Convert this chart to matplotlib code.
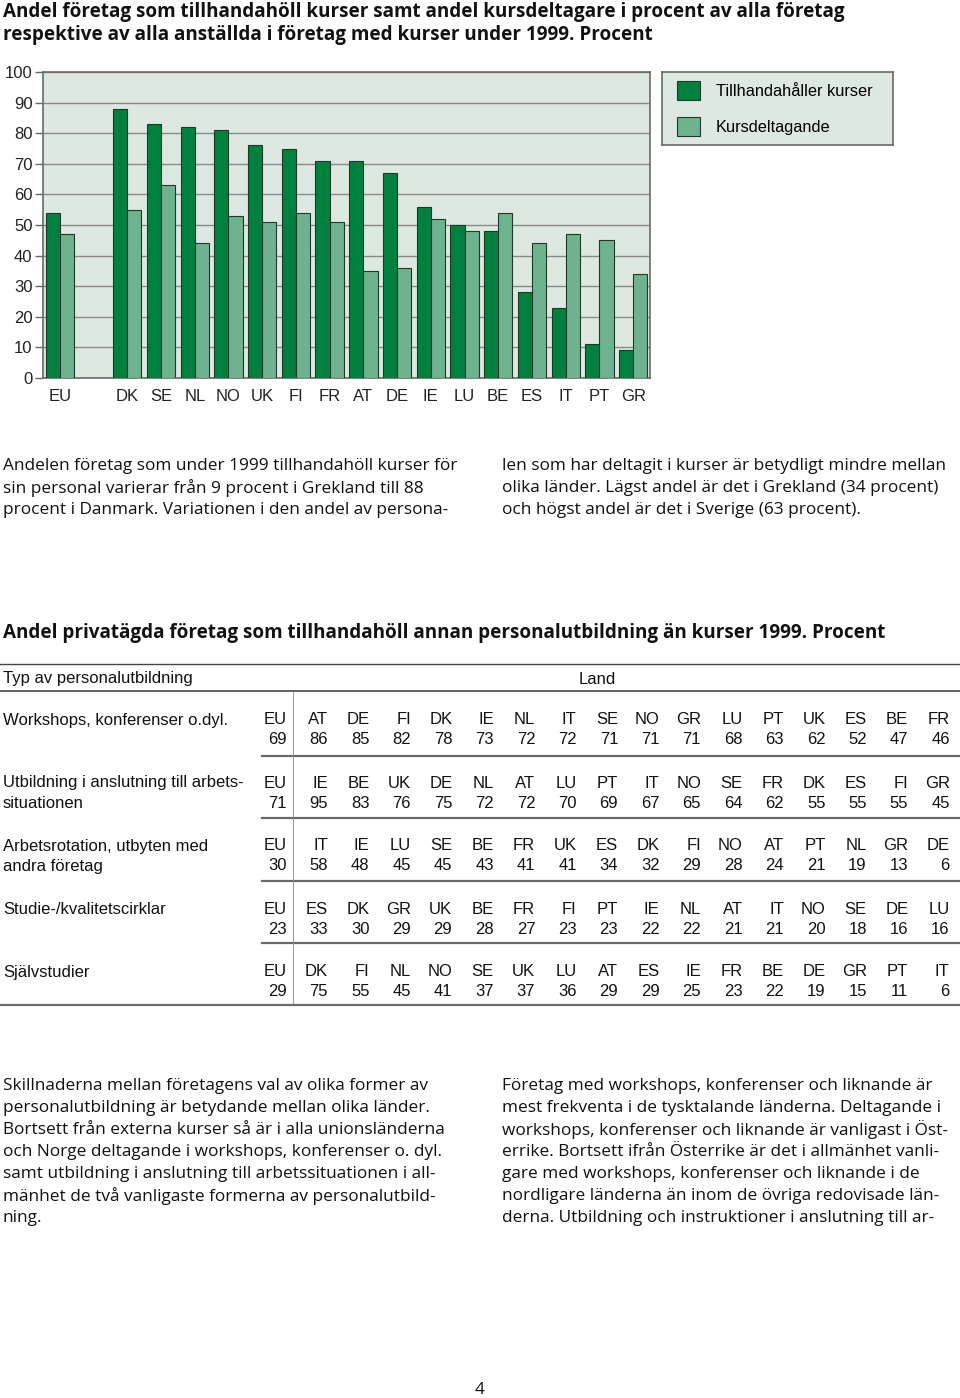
import matplotlib
matplotlib.use("Agg")
import matplotlib.pyplot as plt
from matplotlib.patches import Patch

# ---------------- data ----------------
countries = ["EU", "DK", "SE", "NL", "NO", "UK", "FI", "FR", "AT", "DE",
             "IE", "LU", "BE", "ES", "IT", "PT", "GR"]
positions = [0, 2, 3, 4, 5, 6, 7, 8, 9, 10, 11, 12, 13, 14, 15, 16, 17]
tillhandahaller = [54, 88, 83, 82, 81, 76, 75, 71, 71, 67, 56, 50, 48, 28, 23, 11, 9]
kursdeltagande = [47, 55, 63, 44, 53, 51, 54, 51, 35, 36, 52, 48, 54, 44, 47, 45, 34]
yticks = [0, 10, 20, 30, 40, 50, 60, 70, 80, 90, 100]
series_labels = ["Tillhandahåller kurser", "Kursdeltagande"]

row_labels = [
    ["Workshops, konferenser o.dyl."],
    ["Utbildning i anslutning till arbets-", "situationen"],
    ["Arbetsrotation, utbyten med", "andra företag"],
    ["Studie-/kvalitetscirklar"],
    ["Självstudier"],
]
row1_codes = ["EU", "AT", "DE", "FI", "DK", "IE", "NL", "IT", "SE", "NO", "GR", "LU", "PT", "UK", "ES", "BE", "FR"]
row1_vals = [69, 86, 85, 82, 78, 73, 72, 72, 71, 71, 71, 68, 63, 62, 52, 47, 46]
row2_codes = ["EU", "IE", "BE", "UK", "DE", "NL", "AT", "LU", "PT", "IT", "NO", "SE", "FR", "DK", "ES", "FI", "GR"]
row2_vals = [71, 95, 83, 76, 75, 72, 72, 70, 69, 67, 65, 64, 62, 55, 55, 55, 45]
row3_codes = ["EU", "IT", "IE", "LU", "SE", "BE", "FR", "UK", "ES", "DK", "FI", "NO", "AT", "PT", "NL", "GR", "DE"]
row3_vals = [30, 58, 48, 45, 45, 43, 41, 41, 34, 32, 29, 28, 24, 21, 19, 13, 6]
row4_codes = ["EU", "ES", "DK", "GR", "UK", "BE", "FR", "FI", "PT", "IE", "NL", "AT", "IT", "NO", "SE", "DE", "LU"]
row4_vals = [23, 33, 30, 29, 29, 28, 27, 23, 23, 22, 22, 21, 21, 20, 18, 16, 16]
row5_codes = ["EU", "DK", "FI", "NL", "NO", "SE", "UK", "LU", "AT", "ES", "IE", "FR", "BE", "DE", "GR", "PT", "IT"]
row5_vals = [29, 75, 55, 45, 41, 37, 37, 36, 29, 29, 25, 23, 22, 19, 15, 11, 6]

title_lines = ["Andel företag som tillhandahöll kurser samt andel kursdeltagare i procent av alla företag",
               "respektive av alla anställda i företag med kurser under 1999. Procent"]
para1_left = ["Andelen företag som under 1999 tillhandahöll kurser för",
              "sin personal varierar från 9 procent i Grekland till 88",
              "procent i Danmark. Variationen i den andel av persona-"]
para1_right = ["len som har deltagit i kurser är betydligt mindre mellan",
               "olika länder. Lägst andel är det i Grekland (34 procent)",
               "och högst andel är det i Sverige (63 procent)."]
table_title = "Andel privatägda företag som tillhandahöll annan personalutbildning än kurser 1999. Procent"
para2_left = ["Skillnaderna mellan företagens val av olika former av",
              "personalutbildning är betydande mellan olika länder.",
              "Bortsett från externa kurser så är i alla unionsländerna",
              "och Norge deltagande i workshops, konferenser o. dyl.",
              "samt utbildning i anslutning till arbetssituationen i all-",
              "mänhet de två vanligaste formerna av personalutbild-",
              "ning."]
para2_right = ["Företag med workshops, konferenser och liknande är",
               "mest frekventa i de tysktalande länderna. Deltagande i",
               "workshops, konferenser och liknande är vanligast i Öst-",
               "errike. Bortsett ifrån Österrike är det i allmänhet vanli-",
               "gare med workshops, konferenser och liknande i de",
               "nordligare länderna än inom de övriga redovisade län-",
               "derna. Utbildning och instruktioner i anslutning till ar-"]

# ---------------- styles ----------------
W, H = 960, 1398
DARK = "#00803f"
LIGHT = "#6fb28f"
BG = "#dde8e0"
EDGE = "#1f3a28"
BODY_FONT = ["Open Sans", "DejaVu Sans"]
ARIAL = ["Liberation Sans", "DejaVu Sans"]
BODY_SIZE = 12.4

fig = plt.figure(figsize=(W / 100, H / 100), dpi=100)
fig.patch.set_facecolor("white")


def fx(x):
    return x / W


def fy(y):
    return 1 - y / H


def ftext(x, y, s, **kw):
    fig.text(fx(x), fy(y), s, **kw)


# ---------------- title ----------------
for i, line in enumerate(title_lines):
    ftext(3, 12 + i * 23, line, fontsize=13.55, fontweight="bold", family=BODY_FONT,
          color="#111111", va="center", ha="left")

# ---------------- bar chart ----------------
ax = fig.add_axes([fx(43), fy(378), fx(650) - fx(43), fy(72) - fy(378)])
ax.set_facecolor(BG)
bw = 0.42
xd = [p - bw / 2 for p in positions]
xl = [p + bw / 2 for p in positions]
b1 = ax.bar(xd, tillhandahaller, width=bw, color=DARK, edgecolor=EDGE, linewidth=0.8, zorder=3)
b2 = ax.bar(xl, kursdeltagande, width=bw, color=LIGHT, edgecolor=EDGE, linewidth=0.8, zorder=3)
ax.set_xlim(-0.5, 17.5)
ax.set_ylim(0, 100)
ax.set_yticks(yticks)
ax.set_yticklabels([str(t) for t in yticks], family=ARIAL, fontsize=12, color="#222222")
ax.set_xticks(positions)
ax.set_xticklabels(countries, family=ARIAL, fontsize=12, color="#222222")
ax.tick_params(axis="x", length=0, pad=8)
ax.tick_params(axis="y", length=6, pad=1.5, width=1, color="#666666")
ax.yaxis.grid(True, color="#8a8a8a", linewidth=1, zorder=1)
ax.set_axisbelow(True)
for s in ax.spines.values():
    s.set_color("#6a6a6a")
    s.set_linewidth(1.2)

# legend box
lax = fig.add_axes([fx(662), fy(145), fx(893) - fx(662), fy(72) - fy(145)])
lax.set_facecolor(BG)
lax.set_xticks([])
lax.set_yticks([])
for s in lax.spines.values():
    s.set_color("#6a6a6a")
    s.set_linewidth(1.2)
handles = [Patch(facecolor=DARK, edgecolor=EDGE, linewidth=0.8),
           Patch(facecolor=LIGHT, edgecolor=EDGE, linewidth=0.8)]
lax.legend(handles, series_labels, loc="center left", frameon=False,
           prop={"family": ARIAL, "size": 11.8}, handlelength=1.4, handleheight=1.4,
           labelspacing=1.05, handletextpad=1.0, borderaxespad=0.5)

# ---------------- paragraph 1 ----------------
for i, line in enumerate(para1_left):
    ftext(3, 466 + i * 22, line, fontsize=BODY_SIZE, family=BODY_FONT, color="#111111", va="center")
for i, line in enumerate(para1_right):
    ftext(502, 466 + i * 22, line, fontsize=BODY_SIZE, family=BODY_FONT, color="#111111", va="center")

# ---------------- table ----------------
ftext(3, 633, table_title, fontsize=13.6, fontweight="bold", family=BODY_FONT,
      color="#111111", va="center")


def hline(y, x0, x1, lw, color):
    fig.add_artist(plt.Line2D([fx(x0), fx(x1)], [fy(y), fy(y)], lw=lw, color=color))


def vline(x, y0, y1, lw, color):
    fig.add_artist(plt.Line2D([fx(x), fx(x)], [fy(y0), fy(y1)], lw=lw, color=color))


hline(664, 0, 960, 1.0, "#444444")
hline(691, 0, 960, 1.3, "#555555")
ftext(3, 679, "Typ av personalutbildning", fontsize=12, family=ARIAL, color="#111111", va="center")
ftext(597, 679, "Land", fontsize=12, family=ARIAL, color="#111111", va="center", ha="center")

rows_codes = [row1_codes, row2_codes, row3_codes, row4_codes, row5_codes]
rows_vals = [row1_vals, row2_vals, row3_vals, row4_vals, row5_vals]
row_bottoms = [756, 818, 881, 943, 1005]
col_right = [287] + [328 + 41.45 * k for k in range(16)]
for r in range(5):
    y_code = 720 + r * 63
    y_val = y_code + 20
    for j, line in enumerate(row_labels[r]):
        ftext(3, y_code + j * 20, line, fontsize=12, family=ARIAL, color="#111111", va="center")
    for c, (code, val) in enumerate(zip(rows_codes[r], rows_vals[r])):
        ftext(col_right[c], y_code, code, fontsize=12, family=ARIAL, color="#111111",
              va="center", ha="right")
        ftext(col_right[c], y_val, str(val), fontsize=12, family=ARIAL, color="#111111",
              va="center", ha="right")
    if r < 4:
        hline(row_bottoms[r], 262, 960, 1.6, "#6a6a6a")
    else:
        hline(row_bottoms[r], 0, 960, 1.6, "#6a6a6a")
vline(293, 692, 1004, 0.6, "#888888")

# ---------------- paragraph 2 ----------------
for i, line in enumerate(para2_left):
    ftext(3, 1086 + i * 22, line, fontsize=BODY_SIZE, family=BODY_FONT, color="#111111", va="center")
for i, line in enumerate(para2_right):
    ftext(502, 1086 + i * 22, line, fontsize=BODY_SIZE, family=BODY_FONT, color="#111111", va="center")

ftext(480, 1390, "4", fontsize=BODY_SIZE, family=BODY_FONT, color="#111111", va="center", ha="center")

fig.savefig("out.png", dpi=100, facecolor="white")
